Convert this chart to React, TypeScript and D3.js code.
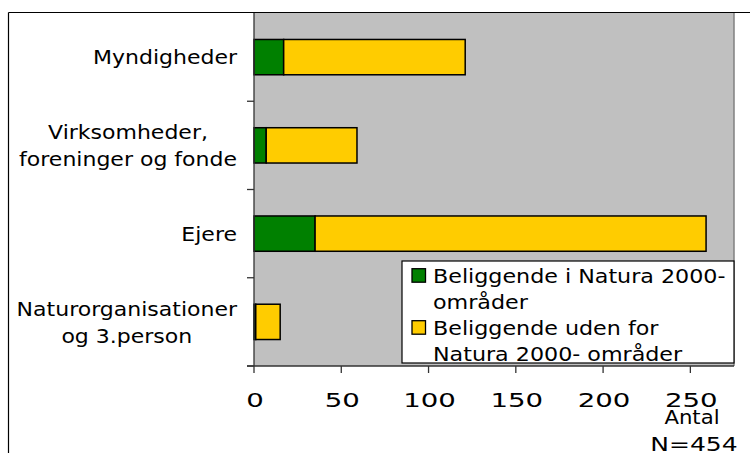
import React, { useEffect, useRef } from "react";
import * as d3 from "d3";

const categories = ["Myndigheder", "Virksomheder,\nforeninger og fonde", "Ejere", "Naturorganisationer\nog 3.person"];
const inNatura = [17, 7, 35, 1];
const outsideNatura = [104, 52, 224, 14];
const xTicks = [0, 50, 100, 150, 200, 250];
const seriesNames = ["Beliggende i Natura 2000-\nområder", "Beliggende uden for\nNatura 2000- områder"];
const seriesColors = ["#008000", "#FFCC00"];
const axisTitle = ["Antal", "N=454"];

const W = 750;
const H = 453;
const FONT = "'DejaVu Sans', Verdana, sans-serif";

export default function App() {
  const ref = useRef<SVGSVGElement | null>(null);

  useEffect(() => {
    const svg = d3.select(ref.current);
    svg.selectAll("*").remove();

    const plot = { left: 254, right: 734, top: 13, bottom: 366 };
    const x = d3.scaleLinear().domain([0, 275]).range([plot.left, plot.right]);
    const y = d3.scaleBand<string>().domain(categories).range([plot.top, plot.bottom]).paddingInner(0.6).paddingOuter(0.3);
    const step = y.step();

    const stretch = (sel: any, f: number) => {
      sel.each(function (this: any) {
        const L = this.getComputedTextLength();
        d3.select(this).attr("textLength", L * f).attr("lengthAdjust", "spacingAndGlyphs");
      });
    };

    // outer frame (top and left edges visible)
    svg.append("line").attr("x1", 8.5).attr("x2", W).attr("y1", 12.5).attr("y2", 12.5).attr("stroke", "#000").attr("stroke-width", 1.2);
    svg.append("line").attr("x1", 8.5).attr("x2", 8.5).attr("y1", 12.5).attr("y2", H).attr("stroke", "#000").attr("stroke-width", 1.2);

    // plot area
    svg.append("rect").attr("x", plot.left).attr("y", plot.top).attr("width", plot.right - plot.left).attr("height", plot.bottom - plot.top).attr("fill", "#C0C0C0");
    svg.append("line").attr("x1", plot.right).attr("x2", plot.right).attr("y1", plot.top).attr("y2", plot.bottom).attr("stroke", "#808080").attr("stroke-width", 1.5);

    // bars
    const g = svg.append("g");
    categories.forEach((c, i) => {
      const y0 = y(c)!;
      const bw = y.bandwidth();
      g.append("rect").attr("x", x(0)).attr("y", y0).attr("width", x(inNatura[i]) - x(0)).attr("height", bw)
        .attr("fill", seriesColors[0]).attr("stroke", "#000").attr("stroke-width", 1.5);
      g.append("rect").attr("x", x(inNatura[i])).attr("y", y0).attr("width", x(inNatura[i] + outsideNatura[i]) - x(inNatura[i])).attr("height", bw)
        .attr("fill", seriesColors[1]).attr("stroke", "#000").attr("stroke-width", 1.5);
    });

    // y axis
    svg.append("line").attr("x1", plot.left).attr("x2", plot.left).attr("y1", plot.top).attr("y2", plot.bottom).attr("stroke", "#333").attr("stroke-width", 1.3);
    categories.forEach((c, i) => {
      const yb = y(c)! - (step - y.bandwidth()) / 2 + step;
      svg.append("line").attr("x1", plot.left - 7).attr("x2", plot.left).attr("y1", yb).attr("y2", yb).attr("stroke", "#333").attr("stroke-width", 1.3);
    });

    // category labels
    const labelRight = 237;
    categories.forEach((c) => {
      const cy = y(c)! + y.bandwidth() / 2;
      const lines = c.split("\n");
      const lh = 26.7;
      const texts = lines.map((ln, j) =>
        svg.append("text").attr("y", cy + 7.3 + (j - (lines.length - 1) / 2) * lh)
          .attr("font-family", FONT).attr("font-size", 20).attr("fill", "#000").attr("text-anchor", "middle").text(ln)
      );
      let maxW = 0;
      texts.forEach((t) => {
        const L = (t.node() as any).getComputedTextLength() * 1.1;
        t.attr("textLength", L).attr("lengthAdjust", "spacingAndGlyphs");
        maxW = Math.max(maxW, L);
      });
      texts.forEach((t) => t.attr("x", labelRight - maxW / 2));
    });

    // x axis
    svg.append("line").attr("x1", plot.left - 7).attr("x2", plot.right).attr("y1", plot.bottom).attr("y2", plot.bottom).attr("stroke", "#333").attr("stroke-width", 1.3);
    xTicks.forEach((v) => {
      svg.append("line").attr("x1", x(v)).attr("x2", x(v)).attr("y1", plot.bottom).attr("y2", plot.bottom + 7).attr("stroke", "#333").attr("stroke-width", 1.3);
      const t = svg.append("text").attr("x", x(v) + 1).attr("y", 406.5).attr("text-anchor", "middle")
        .attr("font-family", FONT).attr("font-size", 20).attr("fill", "#000").text(String(v));
      stretch(t, 1.38);
    });
    axisTitle.forEach((s, j) => {
      const t = svg.append("text").attr("x", 692 + j * 2).attr("y", 424 + j * 26.7).attr("text-anchor", "middle")
        .attr("font-family", FONT).attr("font-size", 20).attr("fill", "#000").text(s);
      stretch(t, j === 0 ? 1.06 : 1.25);
    });

    // legend
    const lg = svg.append("g");
    lg.append("rect").attr("x", 402).attr("y", 261).attr("width", 332).attr("height", 102).attr("fill", "#fff").attr("stroke", "#000").attr("stroke-width", 1.2);
    let lineIdx = 0;
    const baseY = 282.7;
    const lh2 = 26;
    seriesNames.forEach((name, i) => {
      const firstBase = baseY + lineIdx * lh2;
      lg.append("rect").attr("x", 412).attr("y", firstBase - 14).attr("width", 13.5).attr("height", 13.5)
        .attr("fill", seriesColors[i]).attr("stroke", "#000").attr("stroke-width", 1.3);
      name.split("\n").forEach((ln) => {
        const t = lg.append("text").attr("x", 433).attr("y", baseY + lineIdx * lh2)
          .attr("font-family", FONT).attr("font-size", 20).attr("fill", "#000").text(ln);
        stretch(t, 1.11);
        lineIdx++;
      });
    });
  }, []);

  return (
    <svg ref={ref} width={W} height={H} style={{ position: "absolute", left: 0, top: 0, background: "#fff" }} />
  );
}
